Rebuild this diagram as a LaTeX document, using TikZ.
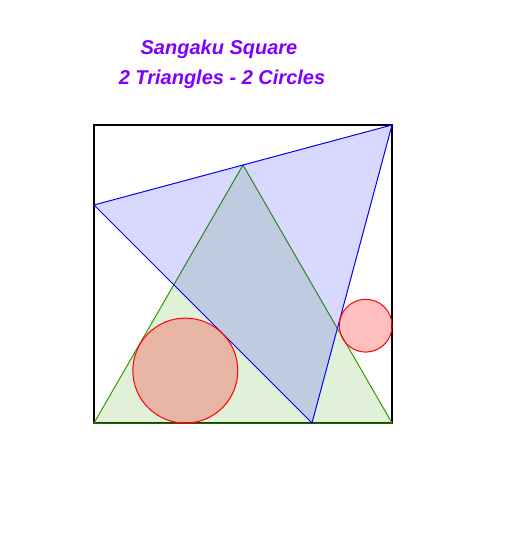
\documentclass[tikz,border=0pt]{standalone}
\usepackage{fontspec}
\setsansfont{Liberation Sans}
\usepackage{tikz}

\definecolor{titlepurple}{RGB}{127,0,255}
\definecolor{trigreen}{RGB}{51,153,0}
\tikzset{
	title/.style={text=titlepurple, font=\sffamily\bfseries\itshape\fontsize{10}{12}\selectfont},
	square/.style={draw=black, line width=1pt},
	greentri/.style={draw=trigreen, fill=trigreen, fill opacity=0.15, line width=0.5pt},
	bluetri/.style={draw=blue, fill=blue, fill opacity=0.15, line width=0.5pt},
	redcirc/.style={draw=red, fill=red, fill opacity=0.25, line width=0.5pt}
}

\begin{document}
\begin{tikzpicture}[x=0.5pt, y=-0.5pt]
	\useasboundingbox (0,0) rectangle (525,549);
	\node [title] (T1) at (219,49) {Sangaku Square};
	\node [title] (T2) at (222,79) {2 Triangles - 2 Circles};
	\coordinate (A) at (94,423);
	\coordinate (B) at (392,423);
	\coordinate (C) at (392,125);
	\coordinate (D) at (94,125);
	\coordinate (E) at (243,165);
	\coordinate (F) at (94,205);
	\coordinate (G) at (312,423);
	\coordinate (O1) at (185.3,370.6);
	\coordinate (O2) at (365.7,325.7);
	\draw [square] (A) -- (B) -- (C) -- (D) -- cycle;
	\filldraw [greentri] (A) -- (B) -- (E) -- cycle;
	\filldraw [bluetri] (F) -- (C) -- (G) -- cycle;
	\filldraw [redcirc] (O1) circle [radius=26.25pt];
	\filldraw [redcirc] (O2) circle [radius=13.2pt];
\end{tikzpicture}
\end{document}
